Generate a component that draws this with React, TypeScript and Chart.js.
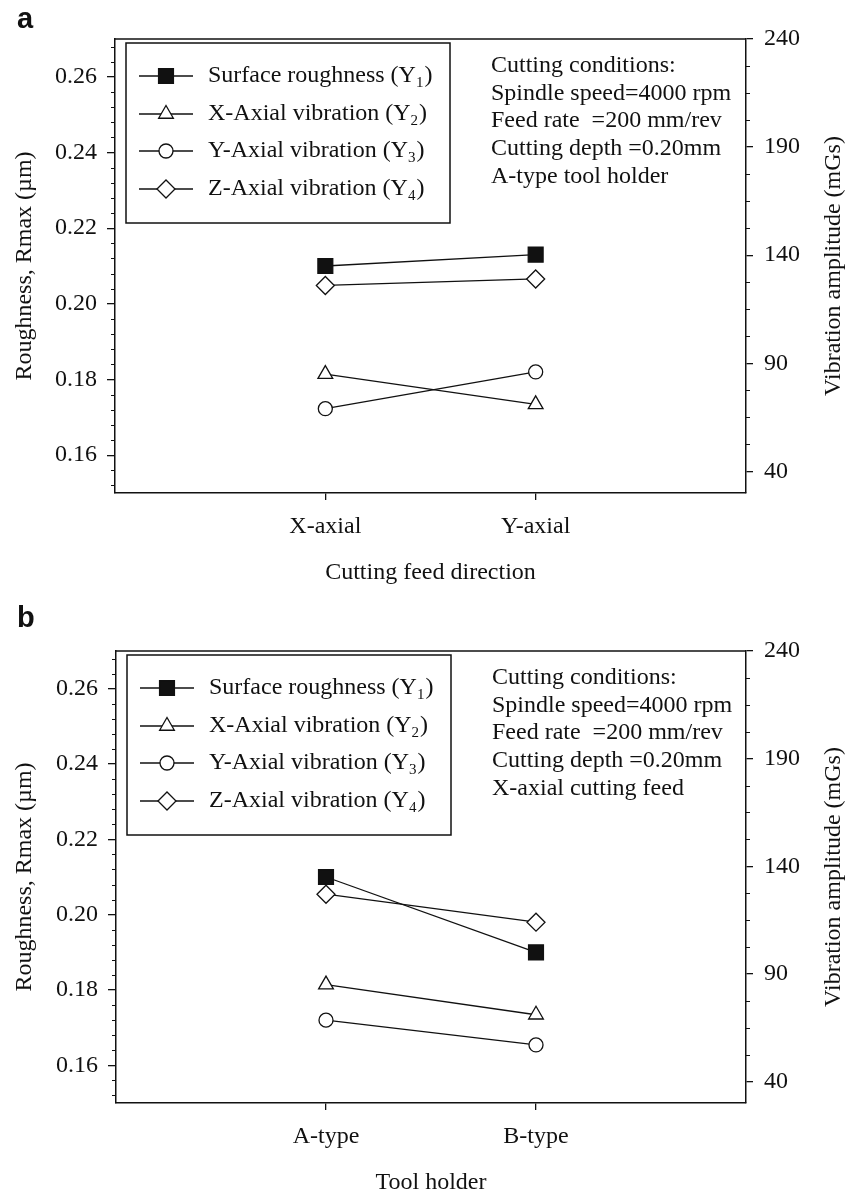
import React, { useEffect, useRef } from "react";
import { Chart, registerables } from "chart.js";
import { drawPoint } from "chart.js/helpers";

Chart.register(...registerables);

const SERIF = "'Liberation Serif', 'Times New Roman', Times, serif";
const SANS = "'Liberation Sans', Arial, sans-serif";
const INK = "#111111";

// ---------- data ----------
const categoryPositions = [1, 2];
const feedDirections = ["X-axial", "Y-axial"];
const toolHolders = ["A-type", "B-type"];

// panel a (cutting feed direction)
const aRoughness = [0.21, 0.213];
const aXAxialVib = [85, 71];
const aYAxialVib = [69, 86];
const aZAxialVib = [126, 129];

// panel b (tool holder)
const bRoughness = [0.21, 0.19];
const bXAxialVib = [85, 71];
const bYAxialVib = [68.5, 57];
const bZAxialVib = [127, 114];

const roughnessTicks = [0.16, 0.18, 0.2, 0.22, 0.24, 0.26];
const vibrationTicks = [40, 90, 140, 190, 240];
const roughnessRange = [0.15, 0.27];
const vibrationRange = [30, 240];
const roughnessMinorStep = 0.004;
const vibrationMinorStep = 12.5;

const leftAxisTitle = "Roughness, Rmax (µm)";
const rightAxisTitle = "Vibration amplitude (mGs)";

const seriesNames = [
  "Surface roughness",
  "X-Axial vibration",
  "Y-Axial vibration",
  "Z-Axial vibration",
];
const seriesSubscripts = ["1", "2", "3", "4"];

const conditionsA = [
  "Cutting conditions:",
  "Spindle speed=4000 rpm",
  "Feed rate  =200 mm/rev",
  "Cutting depth =0.20mm",
  "A-type tool holder",
];
const conditionsB = [
  "Cutting conditions:",
  "Spindle speed=4000 rpm",
  "Feed rate  =200 mm/rev",
  "Cutting depth =0.20mm",
  "X-axial cutting feed",
];

// ---------- styles ----------
const markerStyles = [
  { pointStyle: "rect", radius: 10.5, fill: INK },
  { pointStyle: "triangle", radius: 8.5, fill: "#ffffff" },
  { pointStyle: "circle", radius: 7, fill: "#ffffff" },
  { pointStyle: "rectRot", radius: 9, fill: "#ffffff" },
];

const FONT_SIZE = 24;
const LINE_H = FONT_SIZE * 1.2;

type PanelCfg = {
  letter: string;
  letterY: number;
  top: number;
  height: number;
  areaTop: number;
  areaBottom: number;
  areaLeft: number;
  areaRight: number;
  categories: string[];
  xTitle: string;
  series: number[][];
  conditions: string[];
};

const panels: PanelCfg[] = [
  {
    letter: "a",
    letterY: 28,
    top: 0,
    height: 596,
    areaTop: 39,
    areaBottom: 493,
    areaLeft: 115,
    areaRight: 746,
    categories: feedDirections,
    xTitle: "Cutting feed direction",
    series: [aRoughness, aXAxialVib, aYAxialVib, aZAxialVib],
    conditions: conditionsA,
  },
  {
    letter: "b",
    letterY: 31,
    top: 596,
    height: 604,
    areaTop: 55,
    areaBottom: 507,
    areaLeft: 116,
    areaRight: 746,
    categories: toolHolders,
    xTitle: "Tool holder",
    series: [bRoughness, bXAxialVib, bYAxialVib, bZAxialVib],
    conditions: conditionsB,
  },
];

function minorValues(majors: number[], step: number, min: number, max: number) {
  const out: number[] = [];
  const first = majors[0];
  const kStart = Math.ceil((min - first) / step - 1e-9);
  const kEnd = Math.floor((max - first) / step + 1e-9);
  for (let k = kStart; k <= kEnd; k++) {
    const v = first + k * step;
    if (!majors.some((m) => Math.abs(m - v) < step * 0.01)) out.push(v);
  }
  return out;
}

function makeDecorPlugin(cfg: PanelCfg) {
  return {
    id: "decor" + cfg.letter,
    afterDraw(chart: any) {
      const ctx = chart.ctx as CanvasRenderingContext2D;
      const area = chart.chartArea;
      const yL = chart.scales.y;
      const yR = chart.scales.y1;
      ctx.save();
      ctx.strokeStyle = INK;
      ctx.fillStyle = INK;

      // top frame line
      ctx.lineWidth = 1.5;
      ctx.beginPath();
      ctx.moveTo(area.left, area.top);
      ctx.lineTo(area.right, area.top);
      ctx.stroke();

      // minor ticks
      ctx.lineWidth = 1.2;
      ctx.beginPath();
      for (const v of minorValues(roughnessTicks, roughnessMinorStep, roughnessRange[0], roughnessRange[1])) {
        const py = Math.round(yL.getPixelForValue(v)) + 0.5;
        ctx.moveTo(area.left - 4, py);
        ctx.lineTo(area.left, py);
      }
      for (const v of minorValues(vibrationTicks, vibrationMinorStep, vibrationRange[0], vibrationRange[1])) {
        const py = Math.round(yR.getPixelForValue(v)) + 0.5;
        ctx.moveTo(area.right, py);
        ctx.lineTo(area.right + 4, py);
      }
      ctx.stroke();

      // right axis title (reads bottom to top)
      ctx.save();
      ctx.translate(834, (area.top + area.bottom) / 2);
      ctx.rotate(-Math.PI / 2);
      ctx.font = `${FONT_SIZE}px ${SERIF}`;
      ctx.textAlign = "center";
      ctx.textBaseline = "middle";
      ctx.fillStyle = INK;
      ctx.fillText(rightAxisTitle, 0, 0);
      ctx.restore();

      // legend box
      const bx = area.left + 11;
      const by = area.top + 4;
      ctx.lineWidth = 1.5;
      ctx.strokeRect(bx, by, 324, 180);
      const rows = [37, 75, 112, 150];
      chart.data.datasets.forEach((ds: any, i: number) => {
        const y = area.top + rows[i];
        ctx.lineWidth = 1.3;
        ctx.strokeStyle = INK;
        ctx.beginPath();
        ctx.moveTo(area.left + 24, y);
        ctx.lineTo(area.left + 78, y);
        ctx.stroke();
        ctx.fillStyle = ds.pointBackgroundColor;
        ctx.strokeStyle = INK;
        ctx.lineWidth = 1.3;
        drawPoint(ctx, { pointStyle: ds.pointStyle, radius: ds.pointRadius, borderWidth: 1.3, rotation: 0 } as any, area.left + 51, y);
        // text
        ctx.fillStyle = INK;
        ctx.textBaseline = "middle";
        ctx.textAlign = "left";
        ctx.font = `${FONT_SIZE}px ${SERIF}`;
        let tx = area.left + 93;
        const main = seriesNames[i] + " (Y";
        ctx.fillText(main, tx, y);
        tx += ctx.measureText(main).width;
        ctx.font = `${Math.round(FONT_SIZE * 0.62)}px ${SERIF}`;
        ctx.fillText(seriesSubscripts[i], tx, y + 7);
        tx += ctx.measureText(seriesSubscripts[i]).width + 1;
        ctx.font = `${FONT_SIZE}px ${SERIF}`;
        ctx.fillText(")", tx, y);
      });

      // cutting conditions
      ctx.fillStyle = INK;
      ctx.font = `${FONT_SIZE}px ${SERIF}`;
      ctx.textBaseline = "middle";
      ctx.textAlign = "left";
      const crow = [27, 55, 82, 110, 138];
      cfg.conditions.forEach((line, i) => {
        ctx.fillText(line, area.left + 376, area.top + crow[i]);
      });

      // panel letter
      ctx.font = `bold 29px ${SANS}`;
      ctx.textBaseline = "alphabetic";
      ctx.fillText(cfg.letter, 17, cfg.letterY);
      ctx.restore();
    },
  };
}

function Panel({ cfg }: { cfg: PanelCfg }) {
  const ref = useRef<HTMLCanvasElement>(null);
  useEffect(() => {
    const canvas = ref.current;
    if (!canvas) return;
    const font = { family: SERIF, size: FONT_SIZE, lineHeight: 1.2 };
    const titleBottomPad = cfg.height - cfg.areaBottom - 80 - LINE_H / 2;
    const chart = new Chart(canvas, {
      type: "line",
      data: {
        datasets: cfg.series.map((vals, i) => ({
          label: seriesNames[i],
          data: categoryPositions.map((x, j) => ({ x, y: vals[j] })),
          yAxisID: i === 0 ? "y" : "y1",
          borderColor: INK,
          borderWidth: 1.3,
          pointStyle: markerStyles[i].pointStyle as any,
          pointRadius: markerStyles[i].radius,
          pointBackgroundColor: markerStyles[i].fill,
          pointBorderColor: INK,
          pointBorderWidth: 1.3,
          tension: 0,
          fill: false,
        })),
      },
      options: {
        responsive: false,
        maintainAspectRatio: false,
        animation: false,
        devicePixelRatio: 1,
        events: [],
        layout: { padding: { top: cfg.areaTop, bottom: 0, left: 0, right: 0 } },
        plugins: {
          legend: { display: false },
          tooltip: { enabled: false },
          title: { display: false },
        },
        scales: {
          x: {
            type: "linear",
            position: "bottom",
            min: 0,
            max: 3,
            afterBuildTicks: (s: any) => {
              s.ticks = categoryPositions.map((v) => ({ value: v }));
            },
            afterFit: (s: any) => {
              s.height = cfg.height - cfg.areaBottom;
            },
            ticks: {
              callback: (v: any) => {
                const idx = categoryPositions.indexOf(Number(v));
                return idx >= 0 ? cfg.categories[idx] : "";
              },
              font,
              color: INK,
              padding: 12,
              maxRotation: 0,
              autoSkip: false,
            },
            grid: { drawOnChartArea: false, drawTicks: true, tickLength: 7, color: INK, lineWidth: 1.3 },
            border: { display: true, color: INK, width: 1.5 },
            title: {
              display: true,
              text: cfg.xTitle,
              font,
              color: INK,
              padding: { top: 0, bottom: titleBottomPad },
            },
          },
          y: {
            type: "linear",
            position: "left",
            min: roughnessRange[0],
            max: roughnessRange[1],
            afterBuildTicks: (s: any) => {
              s.ticks = roughnessTicks.map((v) => ({ value: v }));
            },
            afterFit: (s: any) => {
              s.width = cfg.areaLeft;
            },
            ticks: {
              callback: (v: any) => Number(v).toFixed(2),
              font,
              color: INK,
              padding: 10,
              autoSkip: false,
            },
            grid: { drawOnChartArea: false, drawTicks: true, tickLength: 8, color: INK, lineWidth: 1.3 },
            border: { display: true, color: INK, width: 1.5 },
            title: {
              display: true,
              text: leftAxisTitle,
              font,
              color: INK,
              padding: { top: 25 - LINE_H / 2, bottom: 0 },
            },
          },
          y1: {
            type: "linear",
            position: "right",
            min: vibrationRange[0],
            max: vibrationRange[1],
            afterBuildTicks: (s: any) => {
              s.ticks = vibrationTicks.map((v) => ({ value: v }));
            },
            afterFit: (s: any) => {
              s.width = 861 - cfg.areaRight;
            },
            ticks: {
              callback: (v: any) => String(v),
              font,
              color: INK,
              padding: 11,
              autoSkip: false,
            },
            grid: { drawOnChartArea: false, drawTicks: true, tickLength: 7, color: INK, lineWidth: 1.3 },
            border: { display: true, color: INK, width: 1.5 },
            title: { display: false },
          },
        },
      } as any,
      plugins: [makeDecorPlugin(cfg)],
    });
    return () => chart.destroy();
  }, [cfg]);
  return (
    <canvas
      ref={ref}
      width={861}
      height={cfg.height}
      style={{ position: "absolute", left: 0, top: cfg.top, width: 861, height: cfg.height, display: "block" }}
    />
  );
}

export default function App() {
  return (
    <div
      style={{
        position: "absolute",
        left: 0,
        top: 0,
        width: 861,
        height: 1193,
        overflow: "hidden",
        background: "#ffffff",
      }}
    >
      {panels.map((p) => (
        <Panel key={p.letter} cfg={p} />
      ))}
    </div>
  );
}
